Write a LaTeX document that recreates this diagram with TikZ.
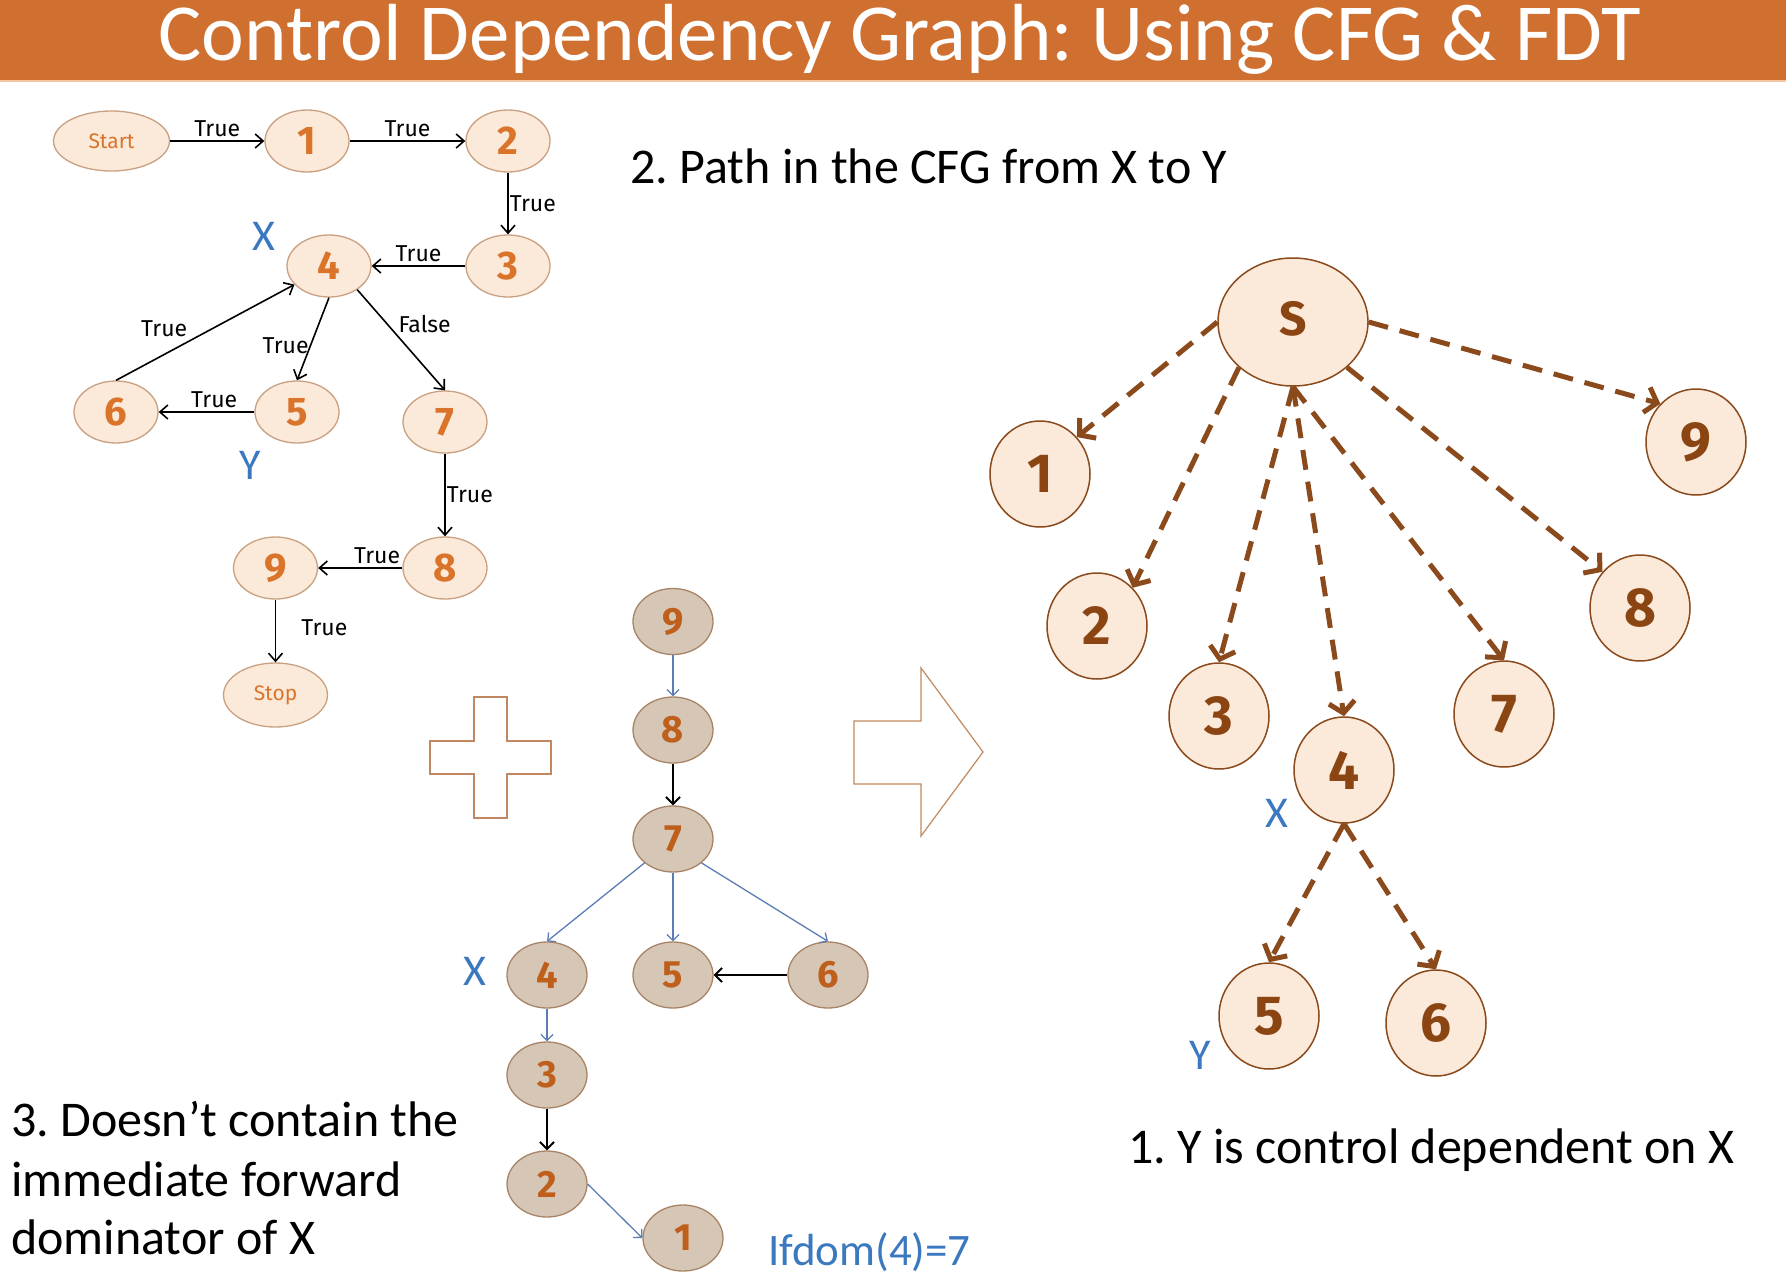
\documentclass[tikz,border=0pt]{standalone}
\usepackage{fontspec}
\setmainfont{Carlito}
\newfontfamily\nodefont{Fira Sans}
\usetikzlibrary{shapes.geometric,arrows.meta}
\frenchspacing

\definecolor{titlebar}{HTML}{D07030}
\definecolor{titleedge}{HTML}{F4C7A0}
\definecolor{cfgfill}{HTML}{FBE9DA}
\definecolor{cfgline}{HTML}{C9A080}
\definecolor{cfgtext}{HTML}{D9742A}
\definecolor{fdtfill}{HTML}{D6C6B5}
\definecolor{fdtline}{HTML}{A88466}
\definecolor{fdttext}{HTML}{BF5F1C}
\definecolor{cdgline}{HTML}{8B4A1C}
\definecolor{cdgtext}{HTML}{8B4513}
\definecolor{markblue}{HTML}{3A78C0}
\definecolor{treeblue}{HTML}{5A7DB5}
\definecolor{shapeline}{HTML}{C0895F}

\tikzset{
  cfgnode/.style={ellipse, draw=cfgline, fill=cfgfill, line width=1.3pt, inner sep=0pt,
    minimum width=84pt, minimum height=62pt, text=cfgtext,
    font=\nodefont\bfseries\fontsize{40}{42}\selectfont},
  cfgterm/.style={cfgnode, font=\nodefont\fontsize{21}{24}\selectfont},
  cfgedge/.style={draw=black, line width=1.6pt, -{Straight Barb[length=8pt,width=14pt]}},
  lbl/.style={font=\nodefont\fontsize{23}{25}\selectfont, inner sep=3pt},
  fdtnode/.style={ellipse, draw=fdtline, fill=fdtfill, line width=1.3pt, inner sep=0pt,
    minimum width=80pt, minimum height=66pt, text=fdttext,
    font=\nodefont\bfseries\fontsize{38}{40}\selectfont},
  fdtblue/.style={draw=treeblue, line width=1.3pt, -{Straight Barb[length=6pt,width=12pt]}},
  fdtblack/.style={draw=black, line width=2pt, -{Straight Barb[length=7pt,width=14pt]}},
  cdgnode/.style={ellipse, draw=cdgline, fill=cfgfill, line width=1.5pt, inner sep=0pt,
    minimum width=100pt, minimum height=106pt, text=cdgtext,
    font=\nodefont\bfseries\fontsize{55}{57}\selectfont},
  cdgedge/.style={draw=cdgline, line width=5pt, dash pattern=on 20pt off 12pt,
    -{Straight Barb[length=11pt,width=26pt]}},
  xymark/.style={text=markblue, inner sep=0pt, font=\fontsize{44}{46}\selectfont},
  caption/.style={inner sep=0pt, anchor=base west, font=\fontsize{50}{60}\selectfont},
  plainshape/.style={draw=shapeline, line width=1.2pt, fill=white}
}

\begin{document}
\begin{tikzpicture}[x=1pt, y=-1pt]
\useasboundingbox (0,0) rectangle (1786,1282);

% title bar
\fill[titlebar] (0,0) rectangle (1786,80);
\fill[titleedge] (0,80) rectangle (1786,82);
\node[anchor=base, text=white, inner sep=0pt, font=\fontsize{81}{90}\selectfont] (title) at (900,60)
  {Control Dependency Graph: Using CFG \& FDT};

% ---- control flow graph ----
\node[cfgterm, minimum width=116pt, minimum height=60pt] (st) at (111.5,141) {Start};
\node[cfgnode] (c1) at (307,141) {1};
\node[cfgnode] (c2) at (508,141) {2};
\node[cfgnode] (c3) at (508,266) {3};
\node[cfgnode] (c4) at (329,266) {4};
\node[cfgnode] (c6) at (116,412) {6};
\node[cfgnode] (c5) at (297,412) {5};
\node[cfgnode] (c7) at (445,422) {7};
\node[cfgnode] (c8) at (445,568) {8};
\node[cfgnode] (c9) at (275.5,568) {9};
\node[cfgterm, minimum width=104pt, minimum height=64pt] (sp) at (275.5,695) {Stop};

\draw[cfgedge] (st) -- node[lbl, above] {True} (c1);
\draw[cfgedge] (c1) -- node[lbl, above] {True} (c2);
\draw[cfgedge] (c2) -- node[lbl, right, inner sep=1pt] {True} (c3);
\draw[cfgedge] (c3) -- node[lbl, above] {True} (c4);
\draw[cfgedge] (c6.north) -- node[lbl, above left, pos=0.42] {True} (c4);
\draw[cfgedge] (c4.south) -- node[lbl, left, pos=0.58, inner sep=1pt] {True} (c5.north);
\draw[cfgedge] (c4.-40) -- node[lbl, above right, pos=0.45, inner sep=1pt] {False} (c7.north);
\draw[cfgedge] (c5) -- node[lbl, above, pos=0.42] {True} (c6);
\draw[cfgedge] (c7) -- node[lbl, right, inner sep=1pt] {True} (c8);
\draw[cfgedge] (c8) -- node[lbl, above, pos=0.3] {True} (c9);
\draw[cfgedge] (c9) -- node[lbl, right, xshift=22pt, pos=0.45] {True} (sp);

\node[xymark] (cx) at (264,236) {X};
\node[xymark] (cy) at (250,465) {Y};

% ---- plus sign and block arrow ----
\draw[plainshape] (474,697) -- (507,697) -- (507,741) -- (551,741) -- (551,774) -- (507,774)
  -- (507,818) -- (474,818) -- (474,774) -- (430,774) -- (430,741) -- (474,741) -- cycle;
\draw[plainshape] (854,721) -- (921,721) -- (921,668) -- (983,752) -- (921,836) -- (921,784)
  -- (854,784) -- cycle;

% ---- forward dominator tree ----
\node[fdtnode] (f9) at (673,621.5) {9};
\node[fdtnode] (f8) at (673,730) {8};
\node[fdtnode] (f7) at (673,839) {7};
\node[fdtnode] (f4) at (547,975) {4};
\node[fdtnode] (f5) at (673,975) {5};
\node[fdtnode] (f6) at (828,975) {6};
\node[fdtnode] (f3) at (547,1075) {3};
\node[fdtnode] (f2) at (547,1184) {2};
\node[fdtnode] (f1) at (683,1238) {1};

\draw[fdtblue] (f9) -- (f8);
\draw[fdtblack] (f8) -- (f7);
\draw[fdtblue] (f7.220) -- (f4.north);
\draw[fdtblue] (f7) -- (f5);
\draw[fdtblue] (f7.320) -- (f6.north);
\draw[fdtblack] (f6) -- (f5);
\draw[fdtblue] (f4) -- (f3);
\draw[fdtblack] (f3) -- (f2);
\draw[fdtblue] (f2.east) -- (f1.west);

\node[xymark] (fx) at (475,971) {X};
\node[inner sep=0pt, anchor=base west, text=markblue, font=\fontsize{45}{50}\selectfont] (ifd) at (768,1265) {Ifdom(4)=7};

% ---- control dependency graph ----
\node[cdgnode, minimum width=150pt, minimum height=128pt, font=\nodefont\bfseries\fontsize{48}{50}\selectfont] (s) at (1293,322) {\raisebox{8pt}{S}};
\node[cdgnode] (d1) at (1040,474) {1};
\node[cdgnode] (d9) at (1696,442) {9};
\node[cdgnode] (d2) at (1097,626) {2};
\node[cdgnode] (d8) at (1640,608) {8};
\node[cdgnode] (d3) at (1219,716) {3};
\node[cdgnode] (d7) at (1504,714) {7};
\node[cdgnode] (d4) at (1344,770) {4};
\node[cdgnode] (d5) at (1269,1016) {5};
\node[cdgnode] (d6) at (1436,1023) {6};

\draw[cdgedge] (s.west) -- (d1.45);
\draw[cdgedge] (s.220) -- (d2.47);
\draw[cdgedge] (s.south) -- (d3.north);
\draw[cdgedge] (s.south) -- (d4.north);
\draw[cdgedge] (s.south) -- (d7.north);
\draw[cdgedge] (s.320) -- (d8.136);
\draw[cdgedge] (s.east) -- (d9.133);
\draw[cdgedge] (d4.south) -- (d5.north);
\draw[cdgedge] (d4.south) -- (d6.north);

\node[xymark] (dx) at (1277,813) {X};
\node[xymark] (dy) at (1200,1055) {Y};

% ---- captions ----
\node[caption] (cap2) at (630,183) {2. Path in the CFG from X to Y};
\node[caption] (cap1) at (1128,1163) {1. Y is control dependent on X};
\node[caption] (cap3a) at (11,1136) {3. Doesn’t contain the};
\node[caption] (cap3b) at (11,1196) {immediate forward};
\node[caption] (cap3c) at (11,1254) {dominator of X};
\end{tikzpicture}
\end{document}
